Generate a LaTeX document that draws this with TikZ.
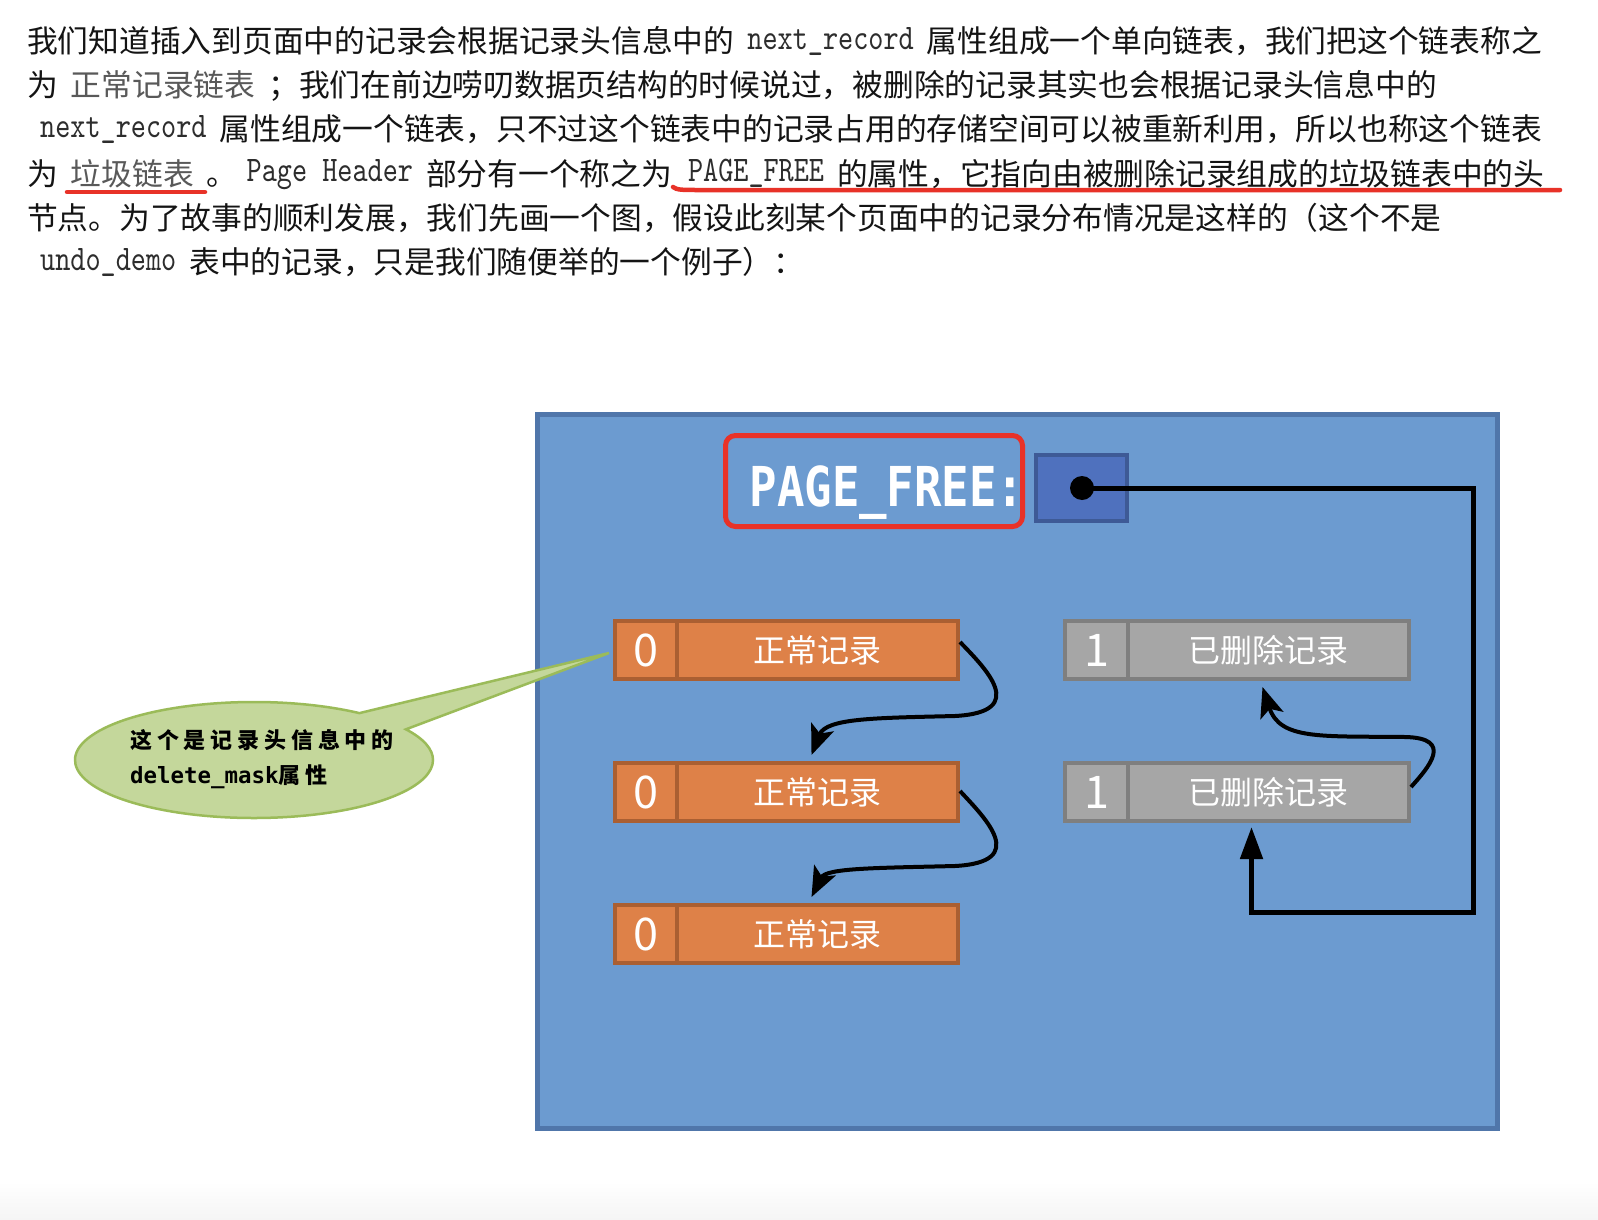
\documentclass[tikz,border=0pt]{standalone}
\usepackage{fontspec}
\usetikzlibrary{arrows.meta,shapes.callouts,calc}

\newfontfamily\cjk{Noto Sans CJK SC}
\newfontfamily\cjknote{Noto Sans CJK SC}[LetterSpace=22]
\newfontfamily\pfmono{DejaVu Sans Mono}[FakeStretch=0.83]
\newfontfamily\notemono{DejaVu Sans Mono}
\newfontfamily\codefont{lmmono10-regular}[Extension=.otf, FakeStretch=0.8]

\definecolor{pagefill}{RGB}{108,155,208}
\definecolor{pageedge}{RGB}{80,118,170}
\definecolor{slotfill}{RGB}{79,113,190}
\definecolor{slotedge}{RGB}{62,90,150}
\definecolor{markred}{RGB}{232,50,40}
\definecolor{normfill}{RGB}{222,129,72}
\definecolor{normedge}{RGB}{170,95,50}
\definecolor{delfill}{RGB}{166,166,166}
\definecolor{deledge}{RGB}{127,127,127}
\definecolor{notefill}{RGB}{196,215,155}
\definecolor{noteedge}{RGB}{155,187,89}
\definecolor{softtext}{RGB}{89,89,89}
\definecolor{codetext}{RGB}{45,45,45}
\definecolor{inktext}{RGB}{20,20,20}

\newcommand\gap{\hspace{13pt}}
\newcommand\code[1]{\raisebox{3pt}{\codefont\fontsize{36pt}{40pt}\selectfont\color{codetext}#1}}
\newcommand\soft[1]{{\color{softtext}#1}}

\tikzset{
  para/.style={inner sep=0pt, anchor=base west, text=inktext,
    font=\cjk\fontsize{30.75pt}{36pt}\selectfont},
  flagcell/.style={draw, line width=4pt, inner sep=0pt, minimum height=58pt,
    text=white, font=\cjk\fontsize{45pt}{50pt}\selectfont},
  bodycell/.style={draw, line width=4pt, inner sep=0pt, minimum height=58pt,
    minimum width=281pt, text=white, font=\cjk\fontsize{32pt}{36pt}\selectfont},
  normal/.style={draw=normedge, fill=normfill},
  deleted/.style={draw=deledge, fill=delfill},
  linkarrow/.style={line width=4pt, -{Stealth[length=30pt,width=24pt,inset=7pt]}},
  freeptr/.style={line width=5pt, line join=miter, -{Triangle[length=32pt,width=22pt]}},
  notetext/.style={inner sep=0pt, anchor=base west, text=black},
}

\begin{document}
\begin{tikzpicture}[x=1pt, y=-1pt]
  \fill[white] (0,0) rectangle (1598,1220);
  \shade[top color=white, bottom color=black!4] (0,1182) rectangle (1598,1220);
  \useasboundingbox (0,0) rectangle (1598,1220);

  % paragraph
  \node[para] (l1) at (27,53) {我们知道插入到页面中的记录会根据记录头信息中的\gap\code{next\_record}\gap 属性组成一个单向链表，我们把这个链表称之};
  \node[para] (l2) at (27,97) {为\gap\soft{正常记录链表}\gap；我们在前边唠叨数据页结构的时候说过，被删除的记录其实也会根据记录头信息中的};
  \node[para] (l3) at (27,141) {\gap\code{next\_record}\gap 属性组成一个链表，只不过这个链表中的记录占用的存储空间可以被重新利用，所以也称这个链表};
  \node[para] (l4) at (27,185) {为\gap\soft{垃圾链表}\gap。\hspace{9pt}\code{Page Header}\gap 部分有一个称之为\hspace{16pt}\code{PAGE\_FREE}\gap 的属性，它指向由被删除记录组成的垃圾链表中的头};
  \node[para] (l5) at (27,229) {节点。为了故事的顺利发展，我们先画一个图，假设此刻某个页面中的记录分布情况是这样的（这个不是};
  \node[para] (l6) at (27,273) {\gap\code{undo\_demo}\gap 表中的记录，只是我们随便举的一个例子）：};

  % red underlines
  \draw[markred, line width=4.5pt, line cap=round] (67,192) -- (205,192);
  \draw[markred, line width=4.5pt, line cap=round] (673,187) .. controls (676,190) and (684,190) .. (695,190) -- (1560,190);

  % page
  \draw[pageedge, fill=pagefill, line width=5pt] (537.5,414.5) rectangle (1497.5,1128.5);

  % PAGE_FREE header
  \node[draw=markred, line width=5pt, rounded corners=10pt, minimum width=297pt,
        minimum height=91pt, inner sep=0pt] (pfframe) at (874,481) {};
  \node[inner sep=0pt, anchor=base, text=white,
        font=\pfmono\bfseries\fontsize{55pt}{60pt}\selectfont] (pftext) at (887,506) {PAGE\_FREE:};
  \node[draw=slotedge, fill=slotfill, line width=4pt, minimum width=91pt,
        minimum height=66pt, inner sep=0pt] (slot) at (1081.5,488) {};
  \node[circle, fill=black, minimum size=24pt, inner sep=0pt] (dot) at (1082,488) {};

  % normal records
  \foreach \i/\y in {1/650, 2/792, 3/934} {
    \node[flagcell, normal, minimum width=62pt] (f\i) at (646,\y) {0};
    \node[bodycell, normal] (r\i) at (817.5,\y) {正常记录};
  }
  % deleted records
  \foreach \i/\y in {1/650, 2/792} {
    \node[flagcell, deleted, minimum width=63pt] (d\i) at (1096.5,\y) {1};
    \node[bodycell, deleted] (g\i) at (1268.5,\y) {已删除记录};
  }

  % next_record links
  \draw[linkarrow] ([yshift=8pt]r1.east)
      .. controls (985,668) and (1030,712) .. (955,716)
      .. controls (875,718) and (826,718) .. ([xshift=-6pt,yshift=6pt]r2.north);
  \draw[linkarrow] ([yshift=1pt]r2.east)
      .. controls (985,818) and (1030,862) .. (955,866)
      .. controls (875,868) and (826,868) .. ([xshift=-6pt,yshift=6pt]r3.north);
  \draw[linkarrow] ([yshift=5pt]g2.east)
      .. controls (1428,768) and (1455,738) .. (1405,737)
      .. controls (1320,736) and (1280,740) .. ([xshift=-6pt,yshift=-6pt]g1.south);

  % PAGE_FREE pointer
  \coordinate (turnA) at (1473,488);
  \coordinate (turnB) at (1473,912);
  \draw[freeptr] (dot.center) -- (turnA) -- (turnB) -| ([xshift=-17pt,yshift=-4pt]g2.south);

  % callout
  \node[ellipse callout, draw=noteedge, fill=notefill, line width=2.5pt,
        minimum width=358pt, minimum height=116pt, inner sep=0pt,
        callout pointer arc=22,
        callout absolute pointer={([xshift=-4pt,yshift=-3pt]f1.west)}] (note) at (254,760) {};
  \node[notetext, font=\cjknote\bfseries\fontsize{22pt}{26pt}\selectfont] (n1) at (130,748) {这个是记录头信息中的};
  \node[notetext, font=\cjknote\bfseries\fontsize{22pt}{26pt}\selectfont] (n2) at (130,783)
       {{\notemono\bfseries\fontsize{22.4pt}{26pt}\selectfont delete\_mask}属性};
\end{tikzpicture}
\end{document}
